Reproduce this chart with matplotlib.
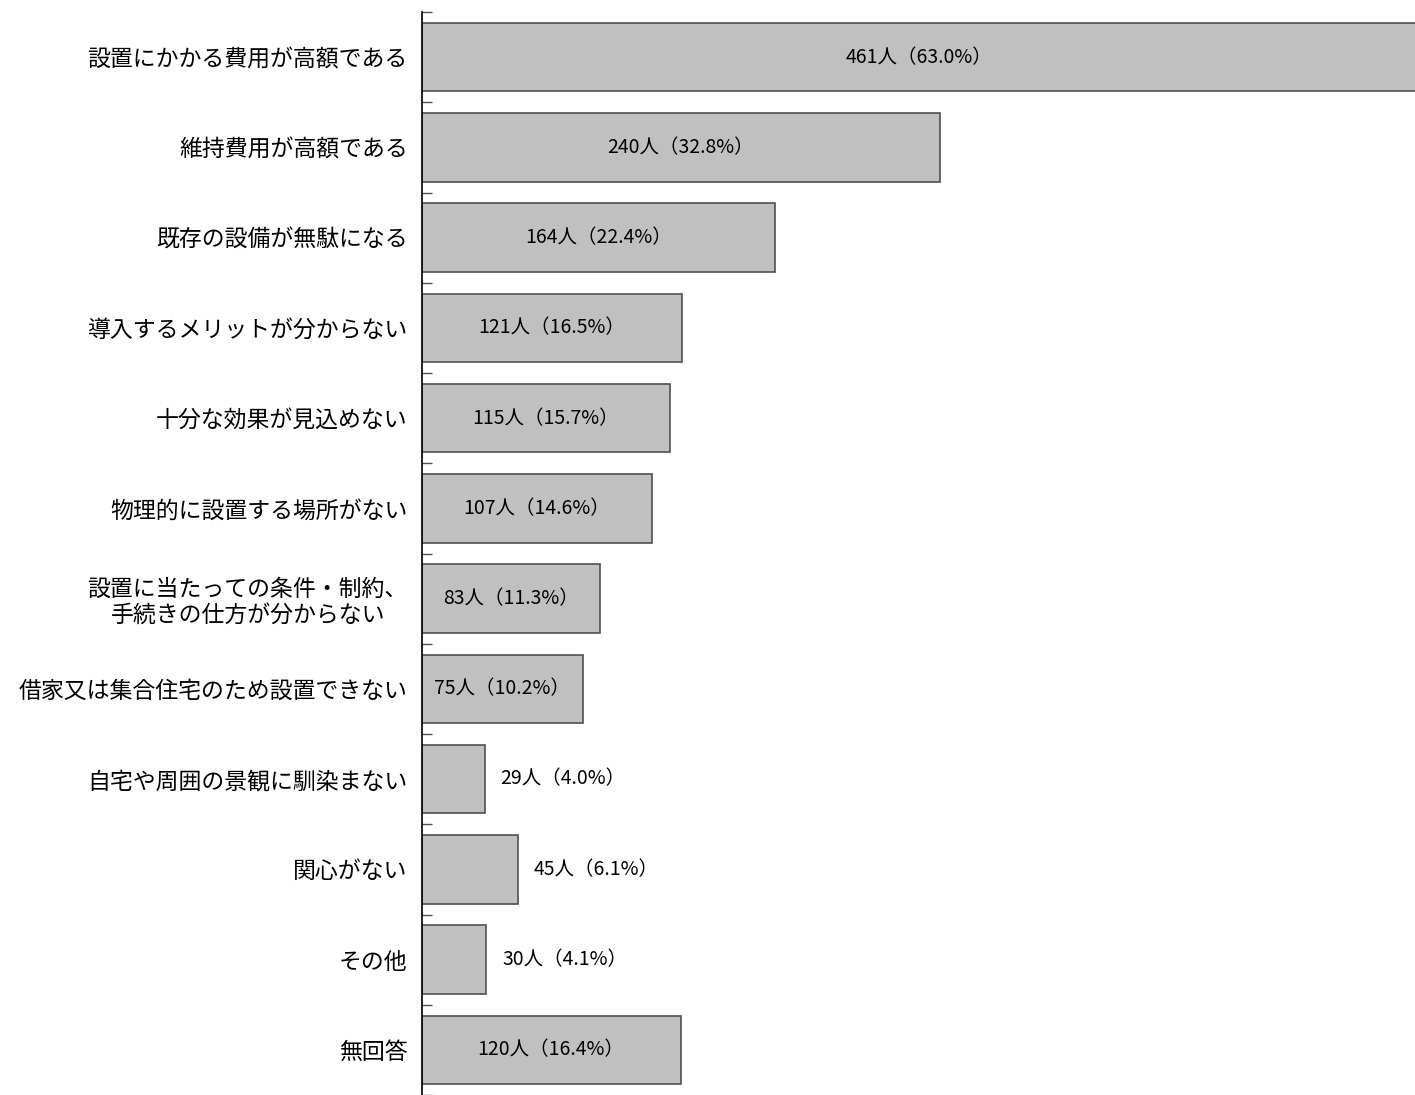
import matplotlib
matplotlib.use("Agg")
import matplotlib.pyplot as plt
import numpy as np

plt.rcParams['font.family'] = ['Noto Sans CJK JP', 'DejaVu Sans']

# 回答項目と人数・割合
categories = [
    "設置にかかる費用が高額である",
    "維持費用が高額である",
    "既存の設備が無駄になる",
    "導入するメリットが分からない",
    "十分な効果が見込めない",
    "物理的に設置する場所がない",
    "設置に当たっての条件・制約、\n手続きの仕方が分からない",
    "借家又は集合住宅のため設置できない",
    "自宅や周囲の景観に馴染まない",
    "関心がない",
    "その他",
    "無回答",
]
counts = [461, 240, 164, 121, 115, 107, 83, 75, 29, 45, 30, 120]
percents = [63.0, 32.8, 22.4, 16.5, 15.7, 14.6, 11.3, 10.2, 4.0, 6.1, 4.1, 16.4]

fig = plt.figure(figsize=(14.15, 10.95), dpi=100)
ax = fig.add_axes([0.298, 0.0, 0.702, 0.989])

y = np.arange(len(categories))
ax.barh(y, percents, height=0.76, color="#c0c0c0", edgecolor="#505050", linewidth=1.2)

# 最長の棒は右端で切れる
ax.set_xlim(0, 62.9)
ax.set_ylim(len(categories) - 0.5, -0.5)

for yi, n, p in zip(y, counts, percents):
    label = f"{n}人（{p:.1f}%）"
    if p >= 10:
        ax.text(p / 2, yi, label, ha="center", va="center", fontsize=14)
    else:
        ax.text(p + 1.0, yi, label, ha="left", va="center", fontsize=14)

ax.set_yticks(y)
ax.set_yticklabels(categories, fontsize=16.5, linespacing=1.15)
for t in ax.get_yticklabels():
    t.set_multialignment("center")
ax.set_yticks(np.arange(len(categories) + 1) - 0.5, minor=True)
ax.tick_params(axis="y", which="major", length=0, pad=10)
ax.tick_params(axis="y", which="minor", length=7, direction="in", width=1, color="#505050")
ax.set_xticks([])

for side in ["top", "right", "bottom"]:
    ax.spines[side].set_visible(False)
ax.spines["left"].set_linewidth(1.2)

fig.savefig("out.png", dpi=100)
